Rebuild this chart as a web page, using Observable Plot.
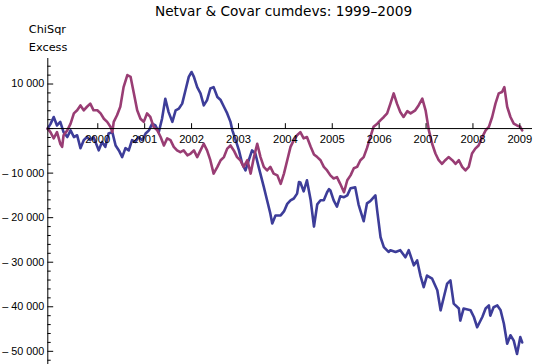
<!DOCTYPE html>
<html>
<head>
<meta charset="utf-8">
<script src="https://cdn.jsdelivr.net/npm/d3@7"></script>
<script src="https://cdn.jsdelivr.net/npm/@observablehq/plot@0.6"></script>
<style>
  html, body { margin: 0; padding: 0; background: #fff; }
  #chart { width: 540px; height: 364px; }
</style>
</head>
<body>
<div id="chart"></div>
<script>
const titleText = "Netvar & Covar cumdevs: 1999–2009";
const yLabelLines = ["ChiSqr", "Excess"];
const xTickYears = [2000, 2001, 2002, 2003, 2004, 2005, 2006, 2007, 2008, 2009];
const yMajorTicks = [-50000, -40000, -30000, -20000, -10000, 0, 10000];
const yLabelTicks = [-50000, -40000, -30000, -20000, -10000, 10000];
const yMinorTicks = [-52000, -48000, -46000, -44000, -42000, -38000, -36000, -34000, -32000,
  -28000, -26000, -24000, -22000, -18000, -16000, -14000, -12000, -8000, -6000, -4000, -2000,
  2000, 4000, 6000, 8000, 12000, 14000];

// Netvar (blue): [decimal year, cumulative deviation]
const netvar = [
  [1998.93,0],[1998.99,1000],[1999.06,2600],[1999.13,700],[1999.20,1500],[1999.27,-800],[1999.35,-1900],
  [1999.42,-400],[1999.49,-1900],[1999.56,-1500],[1999.63,-4400],[1999.70,-2600],[1999.77,-1900],[1999.84,-2600],
  [1999.91,-1900],[2000.02,-4900],[2000.09,-3000],[2000.16,-4100],[2000.23,-1100],[2000.31,-800],[2000.38,-3800],
  [2000.45,-4900],[2000.52,-6400],[2000.59,-4400],[2000.66,-4900],[2000.73,-2600],[2000.80,-3000],[2000.87,-1900],
  [2000.95,-2600],[2001.02,-1100],[2001.09,-400],[2001.16,1100],[2001.23,700],[2001.30,-800],[2001.37,2200],
  [2001.44,6700],[2001.51,3700],[2001.59,1500],[2001.66,4100],[2001.73,4500],[2001.80,5600],[2001.87,8600],
  [2001.94,11600],[2002.00,12700],[2002.05,11600],[2002.12,9300],[2002.19,7900],[2002.26,5200],[2002.33,6400],
  [2002.40,9000],[2002.47,9300],[2002.55,7100],[2002.62,6400],[2002.69,4900],[2002.76,3400],[2002.83,1500],
  [2002.87,-400],[2002.94,-2600],[2003.01,-4900],[2003.08,-7900],[2003.15,-9400],[2003.22,-7100],[2003.29,-4900],
  [2003.36,-5600],[2003.43,-8600],[2003.54,-13100],[2003.61,-16100],[2003.68,-19100],[2003.72,-21300],[2003.79,-19500],
  [2003.90,-19500],[2003.97,-18600],[2004.04,-16900],[2004.11,-16100],[2004.18,-15700],[2004.25,-14600],[2004.29,-12000],
  [2004.32,-12100],[2004.39,-14100],[2004.46,-11600],[2004.54,-16100],[2004.61,-22000],[2004.68,-17000],[2004.75,-16100],
  [2004.82,-16100],[2004.89,-14300],[2004.93,-13600],[2004.96,-13900],[2005.03,-16100],[2005.10,-17500],[2005.17,-15200],
  [2005.25,-15400],[2005.32,-15000],[2005.39,-13400],[2005.49,-13200],[2005.56,-17000],[2005.60,-18400],[2005.67,-20800],
  [2005.74,-16800],[2005.81,-16300],[2005.92,-15000],[2005.96,-18600],[2006.03,-24400],[2006.10,-26600],[2006.20,-27700],
  [2006.24,-27300],[2006.35,-27700],[2006.45,-27300],[2006.56,-28900],[2006.63,-27300],[2006.74,-30700],[2006.81,-29600],
  [2006.88,-33000],[2006.95,-35600],[2007.02,-33000],[2007.13,-33700],[2007.24,-36300],[2007.31,-40800],[2007.38,-37800],
  [2007.45,-34800],[2007.52,-34100],[2007.59,-39300],[2007.70,-40400],[2007.73,-43100],[2007.80,-40400],[2007.95,-40800],
  [2008.02,-42300],[2008.09,-44600],[2008.20,-42300],[2008.27,-40400],[2008.34,-39700],[2008.37,-42000],[2008.44,-40100],
  [2008.52,-39700],[2008.59,-40800],[2008.66,-43800],[2008.73,-48300],[2008.80,-46400],[2008.87,-47600],[2008.94,-50600],
  [2009.01,-46800],[2009.05,-48000]
];

// Covar (purple): [decimal year, cumulative deviation]
const covar = [
  [1998.93,0],[1998.99,-800],[1999.06,-2200],[1999.13,-800],[1999.20,-3400],[1999.24,-4100],[1999.27,-1500],
  [1999.35,-400],[1999.42,1100],[1999.49,3400],[1999.56,4100],[1999.63,5200],[1999.70,4100],[1999.77,4900],
  [1999.84,5600],[1999.91,4100],[1999.99,4100],[2000.06,3400],[2000.13,2200],[2000.20,1500],[2000.27,400],
  [2000.31,-800],[2000.34,1500],[2000.41,3000],[2000.48,4900],[2000.55,9300],[2000.63,12000],[2000.70,11600],
  [2000.77,7900],[2000.84,4100],[2000.91,2200],[2000.98,1500],[2001.05,3400],[2001.12,2600],[2001.19,400],
  [2001.27,-400],[2001.34,-1900],[2001.41,-3800],[2001.48,-2200],[2001.55,-2600],[2001.62,-4100],[2001.69,-4900],
  [2001.76,-5300],[2001.83,-4900],[2001.91,-6000],[2001.98,-5600],[2002.05,-4900],[2002.12,-6400],[2002.19,-4900],
  [2002.26,-3400],[2002.33,-4900],[2002.40,-7100],[2002.47,-10100],[2002.55,-8600],[2002.62,-7100],[2002.69,-6400],
  [2002.76,-4500],[2002.83,-3800],[2002.90,-4900],[2002.97,-6400],[2003.04,-7100],[2003.11,-8600],[2003.19,-7100],
  [2003.26,-10100],[2003.33,-6400],[2003.40,-3400],[2003.47,-6400],[2003.54,-8600],[2003.61,-9400],[2003.68,-8600],
  [2003.75,-10100],[2003.83,-10500],[2003.90,-12400],[2003.97,-10100],[2004.04,-7100],[2004.11,-4100],[2004.18,-2600],
  [2004.25,-1500],[2004.32,-800],[2004.39,-2200],[2004.46,-1900],[2004.54,-4100],[2004.61,-5800],[2004.68,-6400],
  [2004.75,-7100],[2004.82,-8600],[2004.89,-9400],[2004.96,-10500],[2005.03,-11200],[2005.10,-10900],[2005.17,-12400],
  [2005.25,-14300],[2005.32,-11600],[2005.39,-10500],[2005.46,-8900],[2005.53,-8600],[2005.60,-7100],[2005.67,-6400],
  [2005.74,-4400],[2005.81,-2000],[2005.88,400],[2005.96,1100],[2006.03,1900],[2006.10,2600],[2006.17,3400],
  [2006.24,5600],[2006.31,7900],[2006.38,5600],[2006.45,3700],[2006.52,2600],[2006.60,3900],[2006.67,3400],
  [2006.77,4100],[2006.84,5200],[2006.92,6700],[2006.99,4100],[2007.06,-400],[2007.13,-3400],[2007.20,-5600],
  [2007.27,-7100],[2007.34,-7900],[2007.41,-7100],[2007.48,-6400],[2007.56,-7100],[2007.63,-7900],[2007.70,-7100],
  [2007.77,-8600],[2007.84,-9400],[2007.91,-8600],[2007.98,-5600],[2008.05,-4500],[2008.12,-3800],[2008.20,-1900],
  [2008.27,-400],[2008.34,400],[2008.41,2600],[2008.48,5600],[2008.55,7900],[2008.62,8200],[2008.67,9300],
  [2008.73,4900],[2008.80,2600],[2008.87,1100],[2008.94,700],[2009.01,400],[2009.05,-400]
];

const X0 = 1998.934, X1 = 2009.27;
const Y0 = -52960, Y1 = 15730;
const rows = (arr) => arr.map(([t, v]) => ({t, v}));
const fmt = (v) => (v < 0 ? "\u2013 " : "") + d3.format(",")(Math.abs(v)).replace(/,/g, " ");
const tickShape = { draw(ctx, l) { ctx.moveTo(0, 0); ctx.lineTo(0, -l); } };
const numFont = "'Liberation Sans', Arial, sans-serif";
const textFont = "'DejaVu Sans', sans-serif";

const chart = Plot.plot({
  width: 540,
  height: 364,
  marginLeft: 47.3,
  marginRight: 8,
  marginTop: 58,
  marginBottom: 0,
  x: {type: "linear", domain: [X0, X1], axis: null},
  y: {type: "linear", domain: [Y0, Y1], axis: null},
  style: {fontFamily: numFont, fontSize: "11px", background: "white", color: "black", overflow: "visible"},
  marks: [
    Plot.line(rows(netvar), {x: "t", y: "v", stroke: "#3d3d99", strokeWidth: 2.6, strokeLinejoin: "round"}),
    Plot.line(rows(covar), {x: "t", y: "v", stroke: "#993d74", strokeWidth: 2.6, strokeLinejoin: "round"}),
    Plot.ruleY([0], {stroke: "black", strokeWidth: 1}),
    Plot.ruleX([X0], {stroke: "black", strokeWidth: 1}),
    Plot.vector(xTickYears, {x: d => d, y: 0, length: 5, rotate: 0, anchor: "start", shape: tickShape, stroke: "black", strokeWidth: 1}),
    Plot.vector(yMajorTicks, {x: X0, y: d => d, length: 5, rotate: 90, anchor: "start", shape: tickShape, stroke: "black", strokeWidth: 1}),
    Plot.vector(yMinorTicks, {x: X0, y: d => d, length: 2.5, rotate: 90, anchor: "start", shape: tickShape, stroke: "black", strokeWidth: 1}),
    Plot.text(xTickYears, {x: d => d, y: 0, dy: 11, text: d => String(d), fill: "black", fontSize: 11.2}),
    Plot.text(yLabelTicks, {x: X0, y: d => d, dx: -3.5, textAnchor: "end", text: fmt, fill: "black", fontSize: 10.8}),
    Plot.text([titleText], {frameAnchor: "top", dx: -6.6, dy: -43, lineAnchor: "bottom", text: d => d, fill: "black", fontSize: 13.7, fontFamily: textFont}),
    Plot.text([yLabelLines.join("\n")], {frameAnchor: "top-left", dx: -19, dy: -39, lineAnchor: "top", textAnchor: "start", lineHeight: 1.65, text: d => d, fill: "black", fontSize: 11.3, fontFamily: textFont})
  ]
});
document.getElementById("chart").appendChild(chart);
</script>
</body>
</html>
